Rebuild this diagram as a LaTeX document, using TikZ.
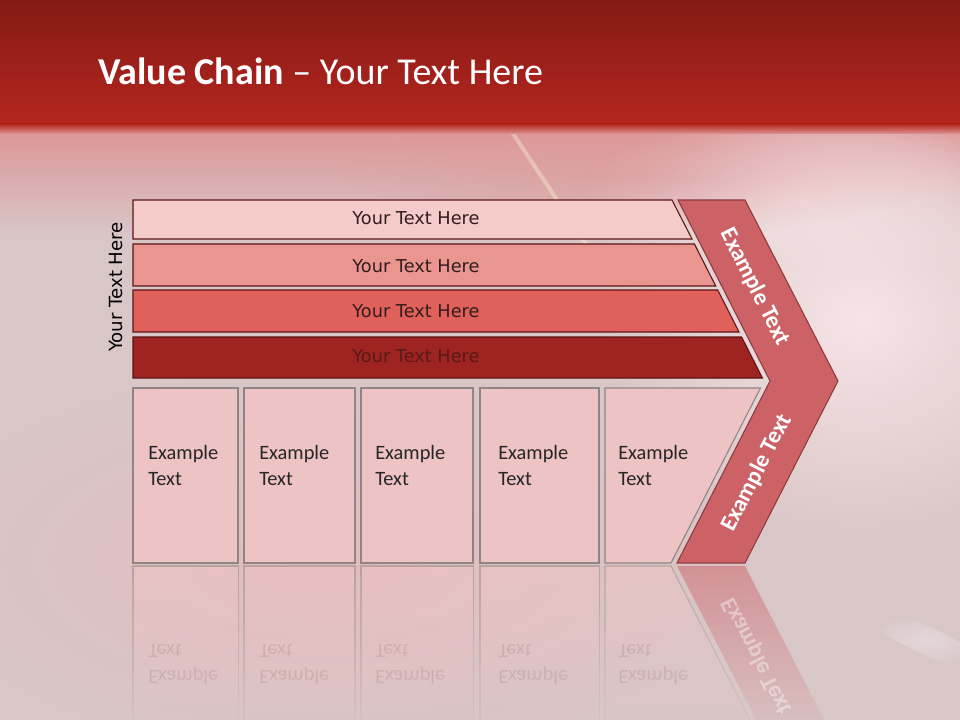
\documentclass[tikz,border=0pt]{standalone}
\usepackage{fontspec}
\usepackage{graphicx}
\setmainfont{Carlito}
\newfontfamily\dejavu{DejaVu Sans}
\usetikzlibrary{fadings}
\definecolor{bandtop}{HTML}{851A15}
\definecolor{bandbot}{HTML}{B4261E}
\definecolor{bgbase}{HTML}{D9C6C7}
\definecolor{bgpink}{HTML}{DD9697}
\definecolor{bglow}{HTML}{E3BDBF}
\definecolor{blob}{HTML}{F6E4E6}
\definecolor{barA}{HTML}{F5CBCA}
\definecolor{barB}{HTML}{EA9590}
\definecolor{barC}{HTML}{E0615A}
\definecolor{barD}{HTML}{9D2420}
\definecolor{barline}{HTML}{5C1515}
\definecolor{bartext}{HTML}{331C1C}
\definecolor{bartextD}{HTML}{5A1A17}
\definecolor{boxfill}{HTML}{EDC3C4}
\definecolor{boxline}{HTML}{8F8585}
\definecolor{chevfill}{HTML}{CC6166}
\definecolor{chevline}{HTML}{8E3B3F}
\definecolor{refltext}{HTML}{B89A9C}
\tikzfading[name=fuzzy, inner color=transparent!0, outer color=transparent!100]
\tikzfading[name=refl, top color=transparent!50, middle color=transparent!92, bottom color=transparent!100]
\begin{document}
\begin{tikzpicture}[x=0.75pt,y=-0.75pt,
  barshape/.style={draw=barline, line width=0.8pt},
  boxshape/.style={draw=boxline, fill=boxfill, line width=0.8pt},
  bartxt/.style={font=\dejavu\fontsize{13.3}{16}\selectfont, text=bartext, anchor=base, inner sep=0pt},
  boxtxt/.style={font=\fontsize{15.3}{19.5}\selectfont, text=black!85, anchor=base west, inner sep=0pt},
  chevtxt/.style={font=\bfseries\fontsize{17.6}{20}\selectfont, text=white, inner sep=0pt},
  refltxt/.style={font=\fontsize{15.3}{19.5}\selectfont, text=refltext, anchor=base west, inner sep=0pt, opacity=0.45},
  reflshape/.style={path fading=refl}
]
\useasboundingbox (0,0) rectangle (960,720);
% ---------- background ----------
\fill[bgbase] (0,0) rectangle (960,720);
\shade[top color=bgpink, bottom color=bgbase] (0,130) rectangle (960,235);
\fill[blob, path fading=fuzzy] (860,320) ellipse [x radius=260, y radius=230];
\fill[blob, path fading=fuzzy, opacity=0.8] (800,200) ellipse [x radius=220, y radius=90];
\fill[bglow, path fading=fuzzy] (330,560) ellipse [x radius=420, y radius=190];
\fill[bgpink, path fading=fuzzy, opacity=0.5] (640,175) ellipse [x radius=300, y radius=60];
\fill[white, path fading=fuzzy, opacity=0.3, rotate around={-25:(925,640)}] (925,640) ellipse [x radius=70, y radius=14];
\draw[line width=3pt, color=white!85!yellow, opacity=0.35, line cap=round] (512,132) -- (598,262);
\shade[top color=bandtop, bottom color=bandbot] (0,0) rectangle (960,124);
\shade[top color=bandbot, bottom color=bgpink] (0,124) rectangle (960,134);
% ---------- title ----------
\node[anchor=base west, inner sep=0pt, text=white, font=\fontsize{28.5}{33}\selectfont] (title) at (98,85) {\textbf{Value Chain} – Your Text Here};
% ---------- reflections ----------
\fill[boxfill, reflshape] (133,566) rectangle (238,741);
\fill[boxfill, reflshape] (244,566) rectangle (355,741);
\fill[boxfill, reflshape] (361,566) rectangle (473,741);
\fill[boxfill, reflshape] (480,566) rectangle (599,741);
\fill[boxfill, reflshape] (605,566) -- (671,566) -- (760.5,741) -- (605,741) -- cycle;
\draw[boxline, reflshape, line width=0.8pt] (133,741) -- (133,566) -- (238,566) -- (238,741);
\draw[boxline, reflshape, line width=0.8pt] (244,741) -- (244,566) -- (355,566) -- (355,741);
\draw[boxline, reflshape, line width=0.8pt] (361,741) -- (361,566) -- (473,566) -- (473,741);
\draw[boxline, reflshape, line width=0.8pt] (480,741) -- (480,566) -- (599,566) -- (599,741);
\draw[boxline, reflshape, line width=0.8pt] (605,741) -- (605,566) -- (671,566) -- (760.5,741);
\fill[chevfill, reflshape] (677,566) -- (745,566) -- (838,747) -- (770,747) -- cycle;
\node[refltxt] (r1) at (148,670) {\scalebox{1}[-1]{\parbox[t]{90pt}{Example\\Text}}};
\node[refltxt] (r2) at (259,670) {\scalebox{1}[-1]{\parbox[t]{90pt}{Example\\Text}}};
\node[refltxt] (r3) at (375,670) {\scalebox{1}[-1]{\parbox[t]{90pt}{Example\\Text}}};
\node[refltxt] (r4) at (498,670) {\scalebox{1}[-1]{\parbox[t]{90pt}{Example\\Text}}};
\node[refltxt] (r5) at (618,670) {\scalebox{1}[-1]{\parbox[t]{90pt}{Example\\Text}}};
\begin{scope}
\clip (677,566) -- (745,566) -- (838,747) -- (770,747) -- cycle;
\node[chevtxt, rotate=-63, text=white, opacity=0.4] (rc) at (757,656) {\scalebox{1}[-1]{Example Text}};
\end{scope}
% ---------- bars ----------
\path[barshape, fill=barA] (133,200) -- (672,200) -- (692,239) -- (133,239) -- cycle;
\path[barshape, fill=barB] (133,244) -- (694.4,244) -- (715.7,286) -- (133,286) -- cycle;
\path[barshape, fill=barC] (133,290) -- (717.7,290) -- (739,332) -- (133,332) -- cycle;
\path[barshape, fill=barD] (133,337) -- (741.6,337) -- (762.4,378) -- (133,378) -- cycle;
\node[bartxt] (t1) at (416,225) {Your Text Here};
\node[bartxt] (t2) at (416,272.5) {Your Text Here};
\node[bartxt] (t3) at (416,317.5) {Your Text Here};
\node[bartxt, text=bartextD] (t4) at (416,362.5) {Your Text Here};
\node[font=\dejavu\fontsize{13.6}{16}\selectfont, text=black, rotate=90, inner sep=0pt] (side) at (116,287) {Your Text Here};
% ---------- boxes ----------
\path[boxshape] (133,388) rectangle (238,563);
\path[boxshape] (244,388) rectangle (355,563);
\path[boxshape] (361,388) rectangle (473,563);
\path[boxshape] (480,388) rectangle (599,563);
\path[boxshape] (605,388) -- (760.5,388) -- (671,563) -- (605,563) -- cycle;
\node[boxtxt] (e1) at (148,459) {\parbox[t]{90pt}{Example\\Text}};
\node[boxtxt] (e2) at (259,459) {\parbox[t]{90pt}{Example\\Text}};
\node[boxtxt] (e3) at (375,459) {\parbox[t]{90pt}{Example\\Text}};
\node[boxtxt] (e4) at (498,459) {\parbox[t]{90pt}{Example\\Text}};
\node[boxtxt] (e5) at (618,459) {\parbox[t]{90pt}{Example\\Text}};
% ---------- chevron ----------
\path[draw=chevline, fill=chevfill, line width=0.8pt] (678,200) -- (745,200) -- (838,381) -- (745,563) -- (677,563) -- (770,381) -- cycle;
\node[chevtxt, rotate=-63] (c1) at (755,287) {Example Text};
\node[chevtxt, rotate=63] (c2) at (757,473) {Example Text};
\end{tikzpicture}
\end{document}
